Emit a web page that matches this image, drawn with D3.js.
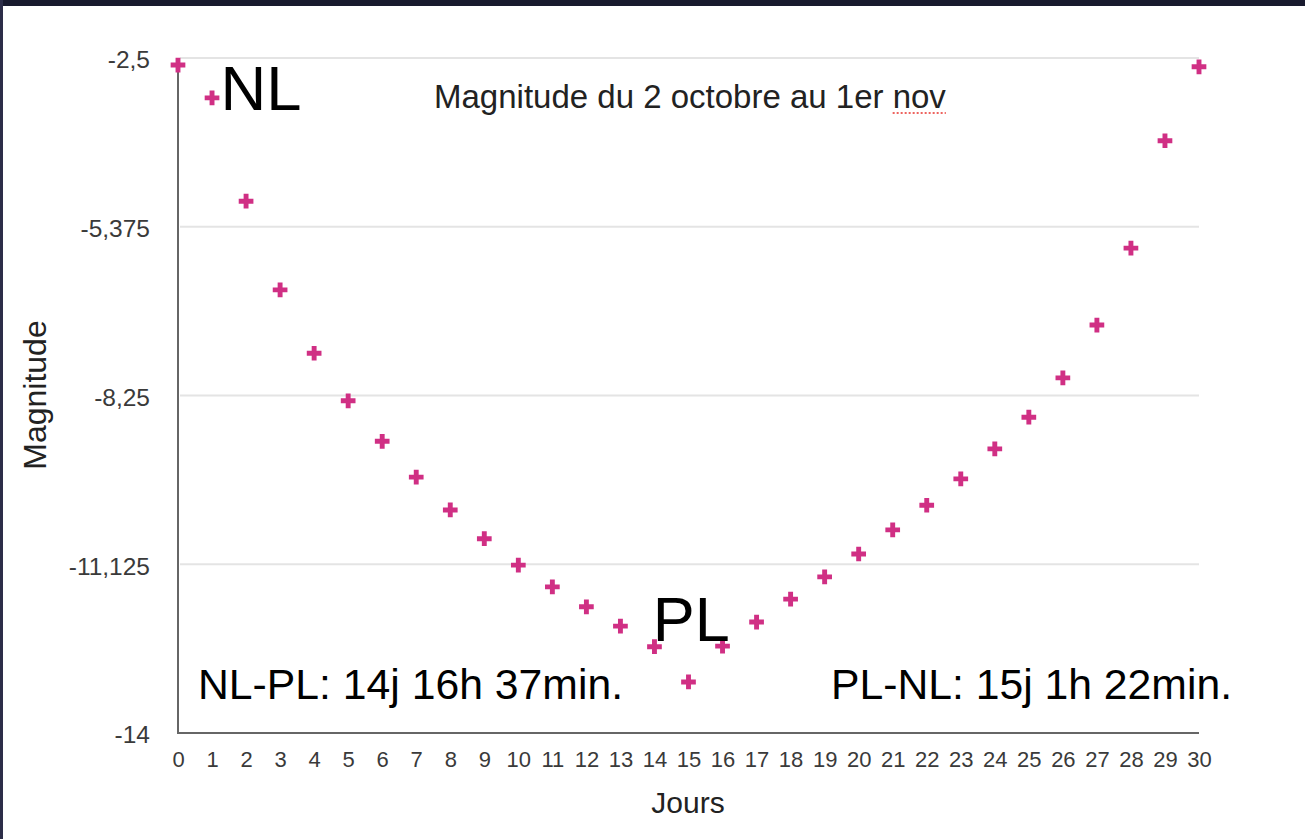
<!DOCTYPE html>
<html>
<head>
<meta charset="utf-8">
<script src="https://cdn.jsdelivr.net/npm/d3@7"></script>
<style>
  html, body { margin: 0; padding: 0; background: #ffffff; }
  svg { display: block; }
</style>
</head>
<body>
<svg id="chart" width="1305" height="839"></svg>
<script>
// ---- data ----
const days = [0,1,2,3,4,5,6,7,8,9,10,11,12,13,14,15,16,17,18,19,20,21,22,23,24,25,26,27,28,29,30];
const magnitudes = [-2.62,-3.18,-4.94,-6.45,-7.53,-8.34,-9.03,-9.64,-10.20,-10.69,-11.14,-11.51,-11.85,-12.18,-12.53,-13.13,
                    -12.52,-12.11,-11.72,-11.34,-10.95,-10.54,-10.12,-9.67,-9.16,-8.62,-7.95,-7.05,-5.74,-3.91,-2.65];
const yTicks = [-2.5, -5.375, -8.25, -11.125, -14];
const yTickLabels = ["-2,5", "-5,375", "-8,25", "-11,125", "-14"];
const title = "Magnitude du 2 octobre au 1er ";
const titleTail = "nov";
const xLabel = "Jours";
const yLabel = "Magnitude";
const annotations = [
  { text: "NL", day: 1.25, mag: -3.39, len: 81 },
  { text: "PL", day: 13.95, mag: -12.44, len: 77 }
];
const notes = ["NL-PL: 14j 16h 37min.", "PL-NL: 15j 1h 22min."];

(function () {
// ---- layout ----
const svg = d3.select("#chart");
const W = 1305, H = 839;
const mLeft = 178, mRight = 1199, mTop = 58, mBottom = 733;
const font = "'Liberation Sans', Arial, Helvetica, sans-serif";

// frame
svg.append("rect").attr("x", 0).attr("y", 0).attr("width", W).attr("height", H).attr("fill", "#fff");
svg.append("rect").attr("x", 0).attr("y", 0).attr("width", W).attr("height", 6).attr("fill", "#181a2e");
svg.append("rect").attr("x", 0).attr("y", 0).attr("width", 3).attr("height", H).attr("fill", "#2c2d48");

const x = d3.scaleLinear().domain([0, 30]).range([mLeft, mRight]);
const y = d3.scaleLinear().domain([-14, -2.5]).range([mBottom, mTop]);

// grid
svg.append("g")
  .selectAll("line").data(yTicks.filter(t => t !== -14)).join("line")
  .attr("x1", mLeft + 2).attr("x2", mRight)
  .attr("y1", d => y(d)).attr("y2", d => y(d))
  .attr("stroke", "#e4e4e4").attr("stroke-width", 2);

// y axis
const yAxis = d3.axisLeft(y).tickValues(yTicks)
  .tickFormat((d, i) => yTickLabels[i]).tickSize(0).tickPadding(28);
const gy = svg.append("g").attr("transform", `translate(${mLeft},2)`).call(yAxis);
gy.select(".domain").remove();
gy.selectAll("text").attr("font-family", font).attr("font-size", 24.5).attr("fill", "#3a3a3a");
svg.append("line").attr("x1", mLeft).attr("x2", mLeft).attr("y1", mTop).attr("y2", mBottom + 1)
  .attr("stroke", "#666").attr("stroke-width", 2);

// x axis
const xAxis = d3.axisBottom(x).tickValues(days).tickFormat(d3.format("d")).tickSize(0).tickPadding(18);
const gx = svg.append("g").attr("transform", `translate(0,${mBottom})`).call(xAxis);
gx.select(".domain").remove();
gx.selectAll("text").attr("font-family", font).attr("font-size", 22).attr("fill", "#3a3a3a");
svg.append("line").attr("x1", mLeft - 1).attr("x2", mRight).attr("y1", mBottom).attr("y2", mBottom)
  .attr("stroke", "#666").attr("stroke-width", 2);

// axis labels
svg.append("text").attr("x", 688).attr("y", 813)
  .attr("text-anchor", "middle").attr("font-family", font).attr("font-size", 30).attr("fill", "#222")
  .text(xLabel);
svg.append("text").attr("transform", "translate(46,395) rotate(-90)")
  .attr("text-anchor", "middle").attr("font-family", font).attr("font-size", 32).attr("fill", "#222")
  .text(yLabel);

// title
const t = svg.append("text").attr("x", 434).attr("y", 108)
  .attr("font-family", font).attr("font-size", 33).attr("fill", "#222");
t.append("tspan").text(title);
const tail = t.append("tspan").text(titleTail);
const tailNode = tail.node();
const startX = tailNode.getStartPositionOfChar(0).x;
const endX = tailNode.getEndPositionOfChar(titleTail.length - 1).x;
svg.append("line").attr("x1", startX).attr("x2", endX).attr("y1", 113).attr("y2", 113)
  .attr("stroke", "#e8322c").attr("stroke-width", 1.5).attr("stroke-dasharray", "2,2");

// points (plus markers)
const plus = d3.symbol().type(d3.symbolCross).size(120);
svg.append("g").selectAll("path").data(days).join("path")
  .attr("transform", (d, i) => `translate(${x(d)},${y(magnitudes[i])})`)
  .attr("d", plus)
  .attr("fill", "#d02f84");

// annotations
svg.append("g").selectAll("text").data(annotations).join("text")
  .attr("x", d => x(d.day)).attr("y", d => y(d.mag))
  .attr("font-family", font).attr("font-size", 63).attr("fill", "#000")
  .attr("textLength", d => d.len).attr("lengthAdjust", "spacingAndGlyphs")
  .text(d => d.text);

svg.append("text").attr("x", 198).attr("y", 699)
  .attr("font-family", font).attr("font-size", 43).attr("fill", "#000")
  .attr("textLength", 425).attr("lengthAdjust", "spacingAndGlyphs")
  .text(notes[0]);
svg.append("text").attr("x", 831).attr("y", 699)
  .attr("font-family", font).attr("font-size", 43).attr("fill", "#000")
  .attr("textLength", 401).attr("lengthAdjust", "spacingAndGlyphs")
  .text(notes[1]);
})();
</script>
</body>
</html>
